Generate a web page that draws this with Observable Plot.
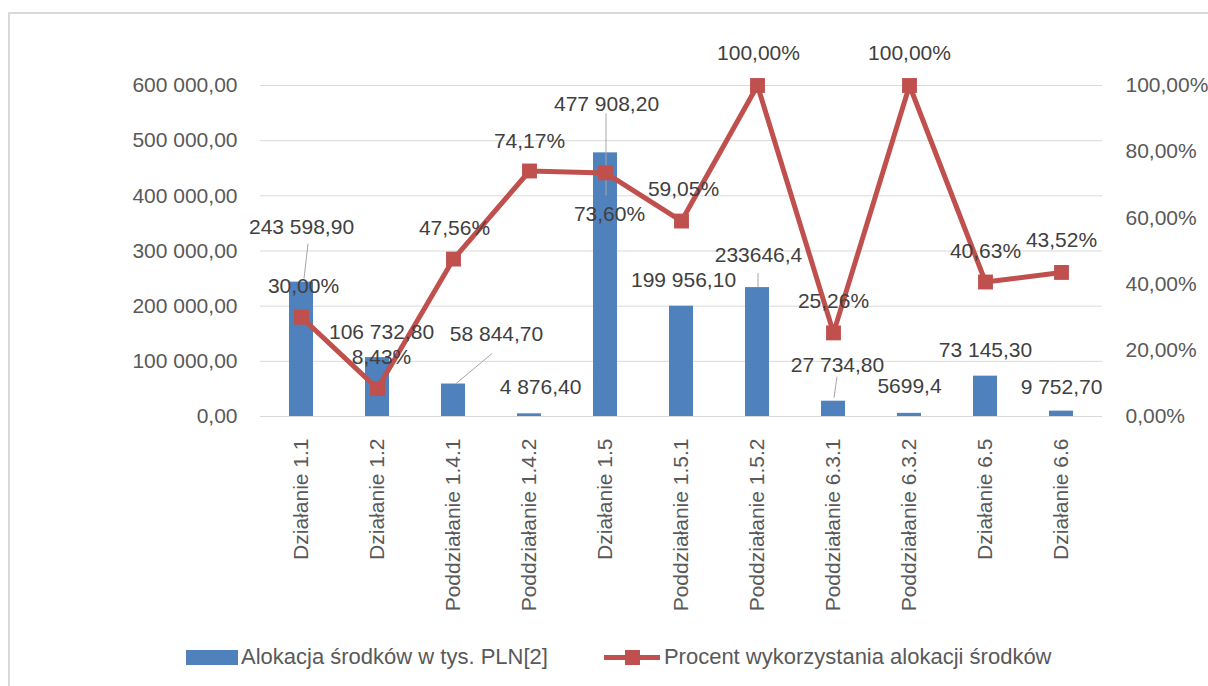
<!DOCTYPE html>
<html>
<head>
<meta charset="utf-8">
<script src="https://cdn.jsdelivr.net/npm/d3@7"></script>
<script src="https://cdn.jsdelivr.net/npm/@observablehq/plot@0.6"></script>
<style>
  html, body { margin: 0; padding: 0; background: #fff; }
  body { width: 1208px; height: 686px; position: relative; overflow: hidden; font-family: "Liberation Sans", Arial, sans-serif; }
  #frame { position: absolute; left: 8px; top: 12px; width: 1400px; height: 900px; border: 2px solid #d9d9d9; box-sizing: border-box; }
  #chart { position: absolute; left: 0; top: 0; }
  #legend { position: absolute; left: 186px; top: 645px; height: 24px; display: flex; align-items: center; font-size: 22px; color: #595959; white-space: nowrap; }
  .sw-bar { width: 52px; height: 15px; background: #4F81BD; margin-right: 3px; }
  .sw-line { position: relative; width: 56px; height: 15px; margin-left: 56px; margin-right: 4px; }
  .sw-line .ln { position: absolute; left: 0; top: 5px; width: 56px; height: 5px; background: #C0504D; }
  .sw-line .sq { position: absolute; left: 21px; top: 0; width: 15px; height: 15px; background: #C0504D; }
</style>
</head>
<body>
<div id="frame"></div>
<div id="chart"></div>
<div id="legend">
  <div class="sw-bar"></div><span>Alokacja środków w tys. PLN[2]</span>
  <div class="sw-line"><div class="ln"></div><div class="sq"></div></div><span>Procent wykorzystania alokacji środków</span>
</div>
<script>
// ---- data ----
const categories = ["Działanie 1.1","Działanie 1.2","Poddziałanie 1.4.1","Poddziałanie 1.4.2","Działanie 1.5","Poddziałanie 1.5.1","Poddziałanie 1.5.2","Poddziałanie 6.3.1","Poddziałanie 6.3.2","Działanie 6.5","Działanie 6.6"];
const allocation = [243598.9,106732.8,58844.7,4876.4,477908.2,199956.1,233646.4,27734.8,5699.4,73145.3,9752.7];
const allocationLabels = ["243 598,90","106 732,80","58 844,70","4 876,40","477 908,20","199 956,10","233646,4","27 734,80","5699,4","73 145,30","9 752,70"];
const percent = [30.00,8.43,47.56,74.17,73.60,59.05,100.00,25.26,100.00,40.63,43.52];
const leftTicks = [0,100000,200000,300000,400000,500000,600000];
const rightTicks = [0,20,40,60,80,100];

// annotation offsets (px) of the data labels, as placed in the original
const barLabelDx = [0,4,43,11,1,2,1,4,0,0,0];
const barLabelDy = [-55,-25,-50,-27,-49,-26,-32,-36,-27,-26,-24];
const pctLabelDx = [2,4,1,0,4,2,1,0,0,0,0];
const pctLabelDy = [-31,-31,-31,-30,41,-32,-32,-32,-32,-31,-32];
// leader lines: [index, fromDx, fromDy, toDx, toDy] relative to bar top centre
const leaders = [[0,7,-38,3,-3],[2,39,-30,3,0],[4,1,-39,1,43],[6,1,-14,1,0],[7,4,-24,1,-3]];

const data = categories.map((c, i) => ({cat: c, alloc: allocation[i], pct: percent[i], i}));
const pctToY = p => p * 6000; // right axis 0–100% shares the 0–600 000 range

const loc = d3.formatLocale({decimal: ",", thousands: "\u00a0", grouping: [3]});
const fmtNum = loc.format(",.2f");
const fmtPct = v => loc.format(".2f")(v) + "%";

const marks = [
  Plot.gridY(leftTicks, {stroke: "#d9d9d9", strokeOpacity: 1, strokeWidth: 1}),
  Plot.barY(data, {x: "cat", y: "alloc", fill: "#4F81BD"}),
  Plot.axisY(leftTicks, {anchor: "left", tickSize: 0, tickPadding: 23, tickFormat: fmtNum, label: null}),
  Plot.axisY(rightTicks.map(pctToY), {anchor: "right", tickSize: 0, tickPadding: 23, tickFormat: v => fmtPct(v / 6000), label: null}),
  Plot.axisX({tickRotate: -90, tickSize: 0, tickPadding: 22, label: null}),
  Plot.ruleY([0], {stroke: "#d9d9d9", strokeWidth: 1}),
  // leader lines
  (index, scales) => {
    const g = d3.create("svg:g").attr("stroke", "#a6a6a6").attr("stroke-width", 1);
    const bw = scales.x.bandwidth ? scales.x.bandwidth() : 0;
    for (const [i, fx, fy, tx, ty] of leaders) {
      const cx = scales.x(categories[i]) + bw / 2;
      const cy = scales.y(allocation[i]);
      g.append("line").attr("x1", cx + fx).attr("y1", cy + fy).attr("x2", cx + tx).attr("y2", cy + ty);
    }
    return g.node();
  },
  Plot.line(data, {x: "cat", y: d => pctToY(d.pct), stroke: "#C0504D", strokeWidth: 5, curve: "linear"}),
  Plot.dot(data, {x: "cat", y: d => pctToY(d.pct), symbol: "square", r: 8.4, fill: "#C0504D", stroke: "none"})
];
data.forEach((d, i) => {
  marks.push(Plot.text([d], {x: "cat", y: "alloc", text: () => allocationLabels[i], dx: barLabelDx[i], dy: barLabelDy[i], fill: "#404040", fontSize: 21}));
  marks.push(Plot.text([d], {x: "cat", y: dd => pctToY(dd.pct), text: dd => fmtPct(dd.pct), dx: pctLabelDx[i], dy: pctLabelDy[i], fill: "#404040", fontSize: 21}));
});

const chart = Plot.plot({
  width: 1208,
  height: 630,
  marginLeft: 260,
  marginRight: 106,
  marginTop: 85,
  marginBottom: 214,
  style: {fontFamily: "Liberation Sans, Arial, sans-serif", fontSize: "21px", color: "#595959", background: "transparent", overflow: "visible"},
  x: {domain: categories, paddingInner: 0.685, paddingOuter: 0.3425},
  y: {domain: [0, 600000]},
  marks
});
document.getElementById("chart").appendChild(chart);
</script>
</body>
</html>
